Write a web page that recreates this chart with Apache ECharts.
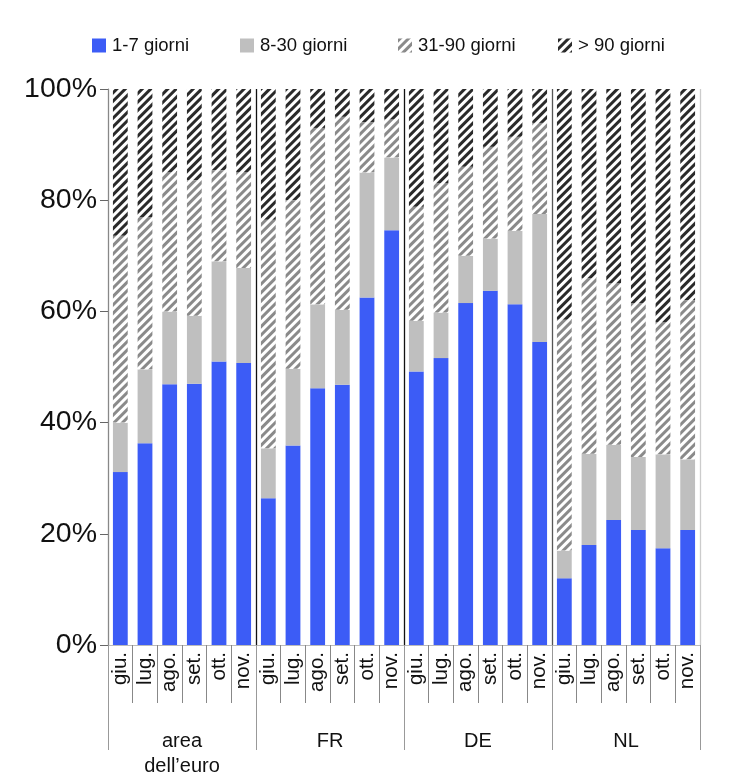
<!DOCTYPE html>
<html>
<head>
<meta charset="utf-8">
<script src="https://cdn.jsdelivr.net/npm/echarts@6/dist/echarts.min.js"></script>
<style>html,body{margin:0;padding:0;background:#fff}#c{width:734px;height:781px}</style>
</head>
<body>
<div id="c"></div>
<script>
const months = ['giu.','lug.','ago.','set.','ott.','nov.','giu.','lug.','ago.','set.','ott.','nov.','giu.','lug.','ago.','set.','ott.','nov.','giu.','lug.','ago.','set.','ott.','nov.'];
const groups = ['area\ndell\u2019euro','FR','DE','NL'];
const seriesNames = ['1-7 giorni','8-30 giorni','31-90 giorni','> 90 giorni'];
const yTicks = [0,20,40,60,80,100];
const s1_7   = [31.1,36.3,46.9,47.0,51.0,50.7, 26.4,35.9,46.2,46.8,62.5,74.6, 49.2,51.6,61.5,63.7,61.3,54.5, 12.0,18.0,22.5,20.7,17.4,20.7];
const s8_30  = [ 8.9,13.3,13.1,12.2,18.0,17.1,  9.0,13.8,15.1,13.5,22.5,13.1,  9.1, 8.2, 8.5, 9.4,13.2,23.0,  5.0,16.4,13.5,13.1,16.9,12.7];
const s31_90 = [33.6,27.4,25.0,24.4,16.4,17.2, 41.1,30.3,31.7,34.7, 9.0, 6.8, 20.5,23.2,16.0,16.5,16.9,16.4, 41.5,31.6,29.0,27.7,23.7,28.6];
const s90    = s1_7.map((v,i)=>+(100 - v - s8_30[i] - s31_90[i]).toFixed(1));

const hatch = (c) => ({
  symbol: 'rect', symbolSize: 1, color: c, backgroundColor: '#ffffff',
  dashArrayX: [1, 0], dashArrayY: [2.5, 2.5], rotation: -Math.PI / 4
});

const chart = echarts.init(document.getElementById('c'));
const font = 'Liberation Sans, Arial, Helvetica, sans-serif';
const legendLefts = [92, 240, 398, 558];
chart.setOption({
  animation: false,
  textStyle: { fontFamily: font },
  legend: seriesNames.map((n, i) => ({
    top: 36, left: legendLefts[i], padding: 0, itemWidth: 14, itemHeight: 14, itemGap: 10,
    icon: 'rect',
    textStyle: { fontSize: 18.5, color: '#111', fontFamily: font, padding: [0, 0, 0, 1] },
    data: [n]
  })),
  grid: { left: 108, right: 34, top: 89, bottom: 136, containLabel: false },
  xAxis: [
    {
      type: 'category', data: months, position: 'bottom', offset: 0,
      axisLine: { show: true, lineStyle: { color: '#bbb' } },
      axisTick: { show: true, interval: 0, length: 58, lineStyle: { color: '#888' } },
      axisLabel: { interval: 0, rotate: 90, margin: 7, fontSize: 20.5, color: '#111', fontFamily: font },
      splitLine: { show: false }
    },
    {
      type: 'category', data: groups, position: 'bottom', offset: 0,
      axisLine: { show: false },
      axisTick: { show: true, interval: 0, length: 105, lineStyle: { color: '#999' } },
      axisLabel: { interval: 0, margin: 84, fontSize: 20, lineHeight: 25, color: '#111', fontFamily: font },
      splitLine: { show: true, interval: 0, lineStyle: { color: ['#888', '#111', '#111', '#555', '#ccc'], width: 1.3 } }
    }
  ],
  yAxis: {
    type: 'value', min: 0, max: 100, interval: 20,
    axisLine: { show: true, lineStyle: { color: '#888' } },
    axisTick: { show: true, length: 8, lineStyle: { color: '#666' } },
    axisLabel: { formatter: v => yTicks.includes(v) ? v + '%' : '', fontSize: 28.5, margin: 11, color: '#111', fontFamily: font },
    splitLine: { show: false }
  },
  series: [
    { name: seriesNames[0], type: 'bar', stack: 't', barWidth: '60%', data: s1_7, itemStyle: { color: '#3c5cf6' } },
    { name: seriesNames[1], type: 'bar', stack: 't', barWidth: '60%', data: s8_30, itemStyle: { color: '#bfbfbf' } },
    { name: seriesNames[2], type: 'bar', stack: 't', barWidth: '60%', data: s31_90, itemStyle: { color: '#ffffff', decal: hatch('#8a8a8a') } },
    { name: seriesNames[3], type: 'bar', stack: 't', barWidth: '60%', data: s90, itemStyle: { color: '#ffffff', decal: hatch('#2a2a2a') } }
  ]
});
</script>
</body>
</html>
